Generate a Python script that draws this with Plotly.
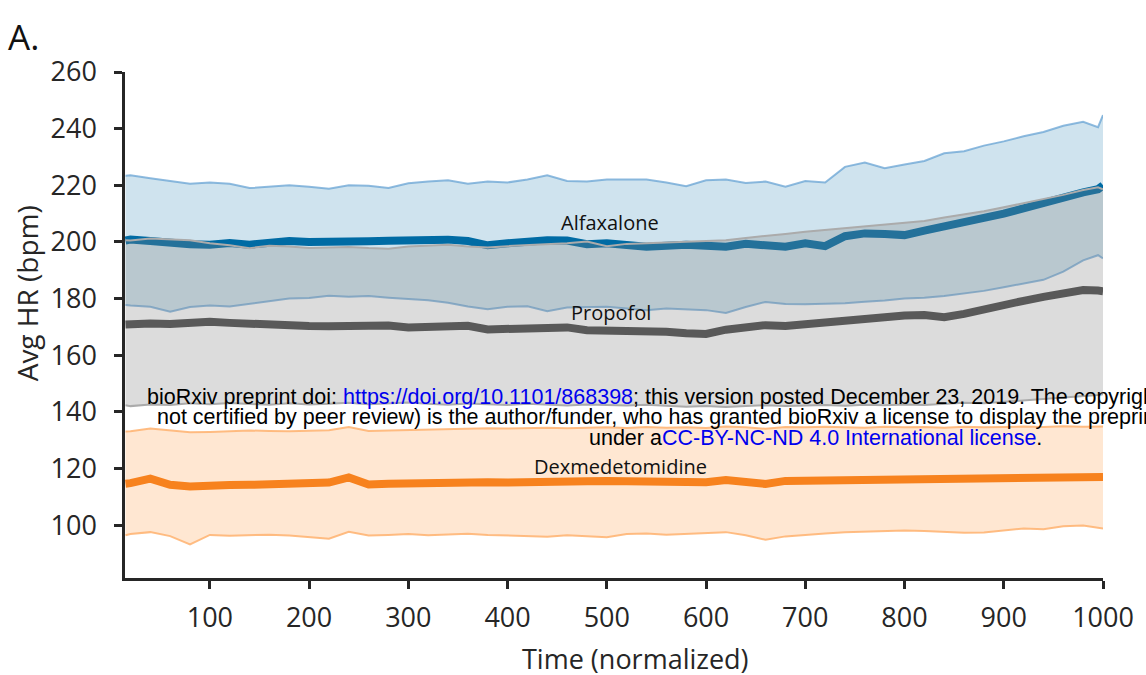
import plotly.graph_objects as go

# Normalized time points
time_pts = [15, 20, 40, 60, 80, 100, 120, 140, 160, 180, 200, 220, 240, 260, 280, 300,
            320, 340, 360, 380, 400, 420, 440, 460, 480, 500, 520, 540, 560, 580, 600,
            620, 640, 660, 680, 700, 720, 740, 760, 780, 800, 820, 840, 860, 880, 900,
            920, 940, 960, 980, 995, 1000]

# Alfaxalone: mean HR and band limits (bpm)
alfa_upper = [223.4, 223.5, 222.5, 221.5, 220.5, 221.0, 220.5, 219.0, 219.5, 220.0, 219.5,
              218.8, 220.0, 219.8, 219.0, 220.7, 221.3, 221.8, 220.5, 221.3, 221.0, 222.0,
              223.5, 221.5, 221.3, 222.0, 222.0, 222.0, 221.0, 219.7, 221.8, 222.0, 220.8,
              221.3, 219.5, 221.5, 221.0, 226.5, 228.0, 226.0, 227.3, 228.6, 231.3, 232.0,
              234.0, 235.5, 237.3, 238.8, 241.0, 242.4, 240.5, 244.8]
alfa_mean = [200.5, 200.8, 200.3, 199.5, 199.2, 199.0, 199.6, 199.0, 199.8, 200.3, 200.0,
             200.3, 200.5, 200.2, 200.4, 200.6, 200.2, 200.8, 200.3, 198.8, 199.5, 200.2,
             200.6, 200.5, 199.2, 199.5, 198.8, 198.3, 198.6, 199.0, 198.6, 198.3, 199.3,
             198.6, 198.3, 199.5, 198.5, 202.0, 203.0, 202.8, 202.4, 204.0, 205.3, 207.0,
             208.5, 210.0, 212.0, 214.0, 215.8, 217.5, 218.6, 220.0]
alfa_lower = [177.7, 177.5, 177.1, 175.3, 177.0, 177.5, 177.2, 178.2, 179.0, 180.0, 180.2,
              181.0, 180.6, 180.9, 180.3, 179.8, 179.4, 178.5, 177.2, 176.2, 177.1, 177.3,
              175.5, 176.8, 177.0, 177.1, 176.5, 175.9, 176.5, 176.3, 175.9, 174.9, 177.0,
              178.8, 178.1, 178.0, 178.2, 178.3, 178.9, 179.3, 180.0, 180.3, 180.9, 181.9,
              182.7, 184.0, 185.2, 186.6, 189.5, 193.5, 195.3, 194.2]

# Propofol: mean HR and band limits (bpm)
prop_upper = [200.6, 200.5, 201.2, 200.8, 200.6, 199.5, 198.8, 197.8, 198.6, 198.4, 197.8,
              198.0, 198.2, 197.8, 197.6, 198.4, 198.8, 199.0, 198.4, 198.0, 198.5, 198.8,
              199.3, 199.5, 200.1, 198.5, 199.3, 199.6, 199.8, 200.1, 200.3, 200.6, 201.4,
              202.0, 202.8, 203.6, 204.2, 204.8, 205.4, 206.0, 206.6, 207.4, 208.6, 209.6,
              210.8, 212.2, 213.6, 215.0, 216.6, 218.3, 219.3, 218.6]
prop_mean = [170.8, 171.0, 171.2, 171.0, 171.5, 171.8, 171.4, 171.0, 170.6, 170.4, 170.3,
             170.2, 170.4, 170.2, 170.5, 169.8, 169.8, 170.0, 170.4, 169.1, 169.2, 169.5,
             169.3, 169.8, 168.8, 168.8, 168.9, 168.5, 168.3, 167.7, 167.5, 169.0, 169.8,
             170.6, 170.3, 171.0, 171.5, 172.4, 173.0, 173.6, 174.0, 174.2, 173.4, 174.6,
             176.3, 178.0, 179.2, 180.6, 182.0, 183.0, 182.8, 182.6]
prop_lower = [142.3, 142.0, 142.6, 142.4, 143.0, 142.7, 143.1, 142.8, 142.5, 143.0, 142.6,
              142.8, 143.2, 142.7, 142.9, 143.3, 142.8, 142.5, 142.9, 142.6, 142.4, 142.8,
              142.5, 142.2, 142.6, 142.4, 142.2, 142.5, 142.1, 141.8, 142.0, 141.7, 142.0,
              142.3, 142.0, 142.2, 142.4, 142.1, 142.5, 142.3, 142.6, 142.4, 142.8, 143.2,
              143.0, 143.5, 143.9, 144.3, 144.8, 145.4, 145.9, 146.2]

# Dexmedetomidine: mean HR and band limits (bpm)
dex_upper = [133.0, 133.1, 134.1, 133.4, 132.8, 132.9, 133.2, 133.4, 133.2, 133.1, 133.3,
             133.5, 134.6, 133.2, 133.4, 133.6, 133.8, 133.9, 134.1, 134.2, 134.1, 134.3,
             134.4, 134.2, 134.4, 134.5, 134.3, 134.6, 134.4, 134.5, 134.3, 134.8, 134.5,
             134.0, 134.6, 134.5, 134.7, 134.6, 134.4, 134.7, 134.5, 134.6, 134.4, 134.7,
             134.5, 134.6, 134.8, 134.6, 134.9, 134.7, 134.9, 134.8]
dex_mean = [114.6, 114.8, 116.4, 114.2, 113.6, 114.2, 114.1, 114.2, 114.5, 114.7, 114.6,
            115.0, 116.8, 114.3, 114.6, 114.8, 114.9, 114.9, 115.0, 115.1, 115.0, 115.3,
            115.2, 115.4, 115.5, 115.6, 115.4, 115.5, 115.3, 115.2, 115.1, 115.9, 115.5,
            114.5, 115.6, 115.7, 115.8, 115.9, 116.0, 116.0, 116.2, 116.1, 116.0, 116.0,
            116.1, 116.4, 116.3, 116.5, 116.7, 116.9, 117.2, 117.0]
dex_lower = [96.4, 96.8, 97.5, 96.1, 93.2, 96.5, 96.2, 96.4, 96.6, 96.3, 95.8,
             95.2, 97.6, 96.3, 96.5, 96.8, 96.4, 96.6, 96.9, 96.5, 96.3, 96.2,
             95.9, 96.4, 96.1, 95.7, 96.8, 97.0, 96.6, 96.9, 97.3, 97.5, 96.4,
             94.8, 96.0, 96.6, 97.0, 97.5, 97.7, 98.0, 98.1, 97.9, 97.6, 97.3,
             97.4, 98.2, 98.8, 98.5, 99.6, 99.8, 99.2, 98.8]

x_ticks = [100, 200, 300, 400, 500, 600, 700, 800, 900, 1000]
y_ticks = [100, 120, 140, 160, 180, 200, 220, 240, 260]

group_labels = ["Alfaxalone", "Propofol", "Dexmedetomidine"]

INK = "#262626"
FONT = "Open Sans"

fig = go.Figure()


def add_band(upper, lower, mean, edge_color, fill_color, mean_color):
    fig.add_trace(go.Scatter(x=time_pts, y=upper, mode="lines",
                             line=dict(color=edge_color, width=2),
                             hoverinfo="skip", showlegend=False))
    fig.add_trace(go.Scatter(x=time_pts, y=lower, mode="lines",
                             line=dict(color=edge_color, width=2),
                             fill="tonexty", fillcolor=fill_color,
                             hoverinfo="skip", showlegend=False))
    fig.add_trace(go.Scatter(x=time_pts, y=mean, mode="lines",
                             line=dict(color=mean_color, width=8),
                             showlegend=False))


# Dexmedetomidine
add_band(dex_upper, dex_lower, dex_mean,
         "rgba(255,178,110,0.85)", "rgba(255,128,14,0.19)", "#F7821E")
# Alfaxalone
add_band(alfa_upper, alfa_lower, alfa_mean,
         "rgba(95,158,209,0.7)", "rgba(0,107,164,0.19)", "#006BA4")
# Propofol (translucent grey band drawn over the alfaxalone band)
add_band(prop_upper, prop_lower, prop_mean,
         "#ABABAB", "rgba(128,128,128,0.28)", "#595959")

axis_common = dict(
    showgrid=False, zeroline=False, showline=True, linewidth=2.5, linecolor=INK,
    ticks="outside", ticklen=8, tickwidth=2.5, tickcolor=INK,
    tickfont=dict(family=FONT, size=27, color=INK),
)

fig.update_xaxes(range=[14.5, 1000], tickvals=x_ticks,
                 ticktext=[str(v) for v in x_ticks], ticklabelstandoff=6,
                 **axis_common)
fig.update_yaxes(range=[81.3, 260], tickvals=y_ticks,
                 ticktext=[str(v) for v in y_ticks], ticklabelstandoff=12,
                 **axis_common)

# Group labels placed beside their mean traces
label_pos = [(503, 206.8), (504, 174.9), (514, 120.8)]
for name, (lx, ly) in zip(group_labels, label_pos):
    fig.add_annotation(x=lx, y=ly, xref="x", yref="y", text=name, showarrow=False,
                       font=dict(family=FONT, size=20, color="#111111"),
                       xanchor="center", yanchor="middle")

# Axis titles and panel letter
fig.add_annotation(x=0.522, y=-0.16, xref="paper", yref="paper",
                   text="Time (normalized)", showarrow=False,
                   font=dict(family=FONT, size=27, color=INK),
                   xanchor="center", yanchor="middle")
fig.add_annotation(x=-0.1, y=0.563, xref="paper", yref="paper",
                   text="Avg HR (bpm)", showarrow=False, textangle=-90,
                   font=dict(family=FONT, size=28, color=INK),
                   xanchor="center", yanchor="middle")
fig.add_annotation(x=-0.122, y=1.071, xref="paper", yref="paper",
                   text="A.", showarrow=False,
                   font=dict(family=FONT, size=35, color="#111111"),
                   xanchor="left", yanchor="middle")

# Preprint notice
LINK = "#0000EE"
notice_font = dict(family="Liberation Sans", size=21.5, color="#000000")
fig.add_annotation(
    x=0.0204, y=0.357, xref="paper", yref="paper", showarrow=False,
    xanchor="left", yanchor="middle", font=notice_font,
    text=("bioRxiv preprint doi: <span style='color:%s'>https://doi.org/10.1101/868398</span>; "
          "this version posted December 23, 2019. The copyright holder for this preprint (which was" % LINK))
fig.add_annotation(
    x=0.0306, y=0.318, xref="paper", yref="paper", showarrow=False,
    xanchor="left", yanchor="middle", font=notice_font,
    text=("not certified by peer review) is the author/funder, who has granted bioRxiv a license "
          "to display the preprint in perpetuity. It is made available"))
fig.add_annotation(
    x=0.706, y=0.277, xref="paper", yref="paper", showarrow=False,
    xanchor="center", yanchor="middle", font=notice_font,
    text="under a<span style='color:%s'>CC-BY-NC-ND 4.0 International license</span>." % LINK)

fig.update_layout(
    width=1146, height=675,
    margin=dict(l=125, r=41, t=72, b=97),
    paper_bgcolor="white", plot_bgcolor="white",
    showlegend=False,
)

fig.write_html("out.html")
